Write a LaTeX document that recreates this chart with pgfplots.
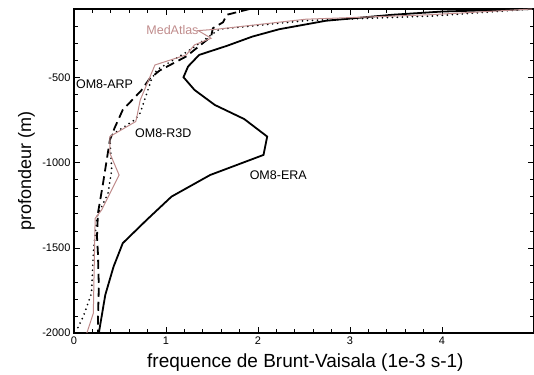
\documentclass[border=0pt]{standalone}
\usepackage{pgfplots}
\pgfplotsset{compat=1.18}
\usepackage{fontspec}
\setmainfont{Liberation Sans}
\definecolor{medatlas}{RGB}{192,140,140}

\begin{document}
\begin{tikzpicture}
\begin{axis}[
    scale only axis,
    width=460pt, height=324pt,
    xmin=0, xmax=5, ymin=-2000, ymax=-95,
    xtick={0,1,2,3,4},
    ytick={-2000,-1500,-1000,-500},
    minor x tick num=4,
    minor ytick={-1900,-1800,-1700,-1600,-1400,-1300,-1200,-1100,-900,-800,-700,-600,-400,-300,-200,-100},
    tick align=inside,
    major tick length=6pt, minor tick length=4pt,
    every tick/.style={black, line width=0.9pt},
    axis line style={line width=1.4pt},
    tick label style={font=\fontsize{11}{13}\selectfont},
    /pgf/number format/assume math mode=true,
    /pgf/number format/set thousands separator={},
    xlabel={frequence de Brunt-Vaisala (1e-3 s-1)},
    ylabel={profondeur (m)},
    xlabel style={font=\fontsize{19}{22}\selectfont, at={(axis description cs:0.503,0)}, anchor=base, yshift=-34pt},
    ylabel style={font=\fontsize{18}{21}\selectfont, at={(axis description cs:0,0.5)}, anchor=south, yshift=39pt, inner sep=0pt},
    clip=true,
]
% OM8-ERA
\addplot[black, line width=1.8pt] coordinates {
(4.98,-95) (4.0,-110) (3.46,-129) (2.74,-164) (2.23,-214) (1.94,-257) (1.66,-312)
(1.36,-365) (1.24,-433) (1.19,-496) (1.31,-571) (1.53,-659) (1.85,-742)
(2.10,-845) (2.06,-953) (1.48,-1071) (1.06,-1198) (0.79,-1335) (0.53,-1472)
(0.43,-1610) (0.34,-1776) (0.27,-2000)
};
% OM8-ARP
\addplot[black, line width=1.8pt, dash pattern=on 9pt off 5pt] coordinates {
(1.91,-95) (1.66,-129) (1.62,-173) (1.51,-208) (1.49,-257) (1.22,-374)
(0.93,-457) (0.82,-506) (0.73,-575) (0.53,-688) (0.44,-796) (0.39,-865)
(0.35,-1002) (0.31,-1139) (0.26,-1296) (0.25,-1434) (0.26,-1531)
(0.27,-1727) (0.26,-1923) (0.26,-2000)
};
% OM8-R3D
\addplot[black, line width=1.9pt, line cap=round, dash pattern=on 0pt off 5pt] coordinates {
(4.98,-95) (3.90,-136) (2.52,-163) (1.58,-214) (1.44,-267)
(1.24,-343) (0.90,-453) (0.84,-512) (0.72,-706) (0.66,-747) (0.41,-835)
(0.39,-845) (0.41,-1041) (0.37,-1178) (0.25,-1316) (0.21,-1531)
(0.19,-1767) (0.10,-1904) (0.03,-1982)
};
% MedAtlas
\addplot[medatlas, line width=1pt] coordinates {
(4.98,-95) (3.86,-129) (2.52,-155) (1.55,-214) (1.35,-222) (1.49,-267)
(1.31,-306) (1.22,-365) (0.88,-424) (0.72,-630) (0.68,-738) (0.67,-757)
(0.39,-845) (0.39,-943) (0.49,-1071) (0.30,-1277) (0.23,-1326)
(0.21,-1884) (0.14,-2000)
};
\node[font=\fontsize{12.5}{14}\selectfont, text=medatlas] at (axis cs:1.07,-218) {MedAtlas};
\node[font=\fontsize{12.5}{14}\selectfont, anchor=west, inner sep=0pt] at (axis cs:0.02,-535) {OM8-ARP};
\node[font=\fontsize{12.5}{14}\selectfont] at (axis cs:0.97,-824) {OM8-R3D};
\node[font=\fontsize{12.5}{14}\selectfont] at (axis cs:2.22,-1071) {OM8-ERA};
\end{axis}
\pgfresetboundingbox
\path ([shift={(-74pt,-41pt)}]current axis.south west) rectangle ([shift={(0pt,9pt)}]current axis.north east);
\end{tikzpicture}
\end{document}
